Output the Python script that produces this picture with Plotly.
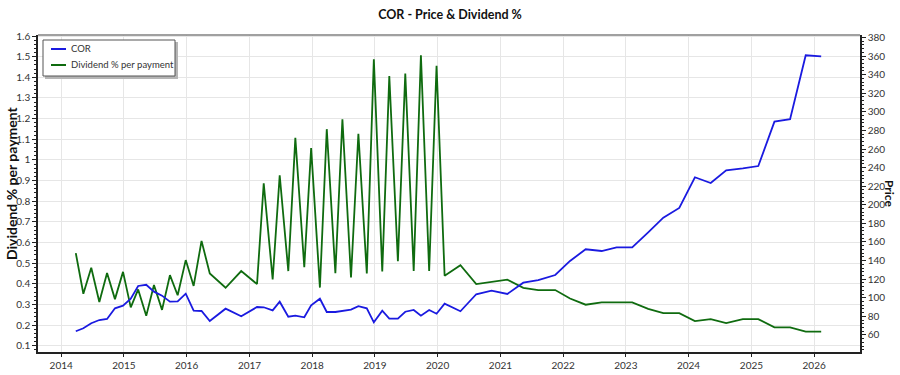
import plotly.graph_objects as go

dates = [
    "2014-03-27", "2014-05-10", "2014-06-25", "2014-08-11", "2014-09-25", "2014-11-10", "2014-12-27",
    "2015-02-10", "2015-03-25", "2015-05-11", "2015-06-25", "2015-08-11", "2015-09-26", "2015-11-10", "2015-12-27",
    "2016-02-11", "2016-03-28", "2016-05-15", "2016-08-15", "2016-11-14",
    "2017-02-14", "2017-03-25", "2017-05-16", "2017-06-26", "2017-08-15", "2017-09-25", "2017-11-16", "2017-12-26",
    "2018-02-15", "2018-03-27", "2018-05-16", "2018-06-26", "2018-08-15", "2018-09-27", "2018-11-15", "2018-12-26",
    "2019-02-13", "2019-03-26", "2019-05-15", "2019-06-27", "2019-08-15", "2019-09-26", "2019-11-13", "2019-12-26",
    "2020-02-11", "2020-05-13", "2020-08-13", "2020-11-10",
    "2021-02-10", "2021-05-14", "2021-08-09", "2021-11-16",
    "2022-02-10", "2022-05-12", "2022-08-13", "2022-11-08",
    "2023-02-07", "2023-05-11", "2023-08-07", "2023-11-08",
    "2024-02-07", "2024-05-09", "2024-08-07", "2024-11-12",
    "2025-02-10", "2025-05-15", "2025-08-14", "2025-11-13",
    "2026-02-11",
]

dividend_pct = [
    0.549, 0.352, 0.478, 0.312, 0.453, 0.326, 0.458,
    0.286, 0.373, 0.245, 0.394, 0.274, 0.442, 0.345, 0.515,
    0.390, 0.608, 0.450, 0.381, 0.462,
    0.399, 0.887, 0.421, 0.926, 0.462, 1.107, 0.481, 1.057,
    0.382, 1.149, 0.452, 1.197, 0.431, 1.127, 0.450, 1.487,
    0.460, 1.406, 0.510, 1.418, 0.462, 1.507, 0.462, 1.456,
    0.439, 0.490, 0.399, 0.409,
    0.420, 0.381, 0.370, 0.370,
    0.329, 0.299, 0.310, 0.310,
    0.310, 0.279, 0.258, 0.258,
    0.220, 0.229, 0.210, 0.229,
    0.229, 0.189, 0.189, 0.169,
    0.169,
]

price = [
    64.0, 67.2, 72.6, 76.1, 77.2, 88.7, 91.5,
    99.0, 112.7, 114.0, 106.6, 102.3, 95.8, 96.2, 104.4,
    86.1, 85.8, 75.0, 88.3, 80.1,
    90.1, 89.8, 86.5, 95.8, 79.7, 80.8, 79.0, 91.9,
    99.0, 84.7, 84.7, 85.8, 87.2, 90.9, 88.7, 73.6,
    86.1, 77.5, 77.5, 85.0, 86.9, 80.8, 86.9, 82.9,
    93.7, 85.5, 103.8, 107.6,
    104.1, 116.2, 119.1, 124.5,
    139.6, 152.2, 150.3, 154.3,
    154.3, 170.4, 186.1, 196.6,
    229.6, 223.4, 237.1, 239.2,
    241.7, 289.4, 292.0, 360.8,
    359.7,
]

series_names = ["COR", "Dividend % per payment"]

FONT = "Lato"
BLUE = "#1a1ae0"
GREEN = "#0f6b0f"
COLORS = [BLUE, GREEN]

fig = go.Figure()
fig.add_trace(go.Scatter(x=dates, y=price, name=series_names[0], mode="lines",
                         line=dict(color=BLUE, width=1.8), yaxis="y2", showlegend=False))
fig.add_trace(go.Scatter(x=dates, y=dividend_pct, name=series_names[1], mode="lines",
                         line=dict(color=GREEN, width=1.8), yaxis="y", showlegend=False))

W, H = 900, 375
L, R, T, B = 38, 40, 35, 23
pw, ph = W - L - R, H - T - B

def px(x):
    return (x - L) / pw

def py(y):
    return (H - B - y) / ph

shapes = [
    dict(type="line", xref="paper", yref="paper", x0=0, x1=1, y0=1, y1=1,
         line=dict(color="#808080", width=1.5)),
    # legend shadow + box
    dict(type="rect", xref="paper", yref="paper",
         x0=px(45), x1=px(178), y0=py(79), y1=py(42),
         fillcolor="#b5b5b5", line=dict(width=0), layer="above"),
    dict(type="rect", xref="paper", yref="paper",
         x0=px(43), x1=px(175), y0=py(76), y1=py(40),
         fillcolor="white", line=dict(color="#555555", width=1), layer="above"),
]
annotations = [
    dict(text="<b>Dividend % per payment</b>", textangle=-90, xref="paper", yref="paper",
         x=px(11), y=py(183), showarrow=False, xanchor="center", yanchor="middle",
         font=dict(family=FONT, size=14, color="#111111")),
    dict(text="<b>Price</b>", textangle=90, xref="paper", yref="paper",
         x=px(890), y=py(194), showarrow=False, xanchor="center", yanchor="middle",
         font=dict(family=FONT, size=12, color="#111111")),
]
for i, (nm, col) in enumerate(zip(series_names, COLORS)):
    yy = 49 + 16 * i
    shapes.append(dict(type="line", xref="paper", yref="paper",
                       x0=px(51), x1=px(66), y0=py(yy), y1=py(yy),
                       line=dict(color=col, width=2), layer="above"))
    annotations.append(dict(text=nm, xref="paper", yref="paper", x=px(69), y=py(yy),
                            xanchor="left", yanchor="middle", showarrow=False,
                            font=dict(family=FONT, size=9.5, color="#333333")))

fig.update_layout(
    width=W, height=H,
    margin=dict(l=L, r=R, t=T, b=B, autoexpand=False),
    paper_bgcolor="white", plot_bgcolor="white",
    font=dict(family=FONT, size=10, color="#333333"),
    title=dict(text="<b>COR - Price & Dividend %</b>", x=0.5, xanchor="center",
               y=1 - 15 / H, yanchor="middle", yref="container",
               font=dict(family=FONT, size=12.5, color="#111111")),
    showlegend=False,
    xaxis=dict(type="date", range=["2013-08-19", "2026-09-25"], automargin=False,
               dtick="M12", tick0="2014-01-01", tickformat="%Y",
               showgrid=True, gridcolor="#e6e6e6", gridwidth=1,
               showline=True, linecolor="#222222", linewidth=1.5,
               ticks="outside", ticklen=3, tickcolor="#222222",
               zeroline=False),
    yaxis=dict(range=[0.07, 1.605], dtick=0.1, tick0=0.1, automargin=False,
               showgrid=True, gridcolor="#e6e6e6", gridwidth=1,
               showline=True, linecolor="#222222", linewidth=1.5,
               ticks="outside", ticklen=4, tickcolor="#222222",
               minor=dict(ticks="outside", ticklen=2, dtick=0.02, tickcolor="#222222", showgrid=False),
               zeroline=False),
    yaxis2=dict(range=[41.7, 382.6], dtick=20, tick0=60, overlaying="y", side="right",
                automargin=False, showgrid=False,
                showline=True, linecolor="#222222", linewidth=1.5,
                ticks="outside", ticklen=4, tickcolor="#222222",
                minor=dict(ticks="outside", ticklen=2, dtick=4, tickcolor="#222222", showgrid=False),
                zeroline=False),
    shapes=shapes,
    annotations=annotations,
)

fig.write_html("out.html", config={"displayModeBar": False},
               post_script="document.body.style.margin='0';document.body.style.overflow='hidden';")
